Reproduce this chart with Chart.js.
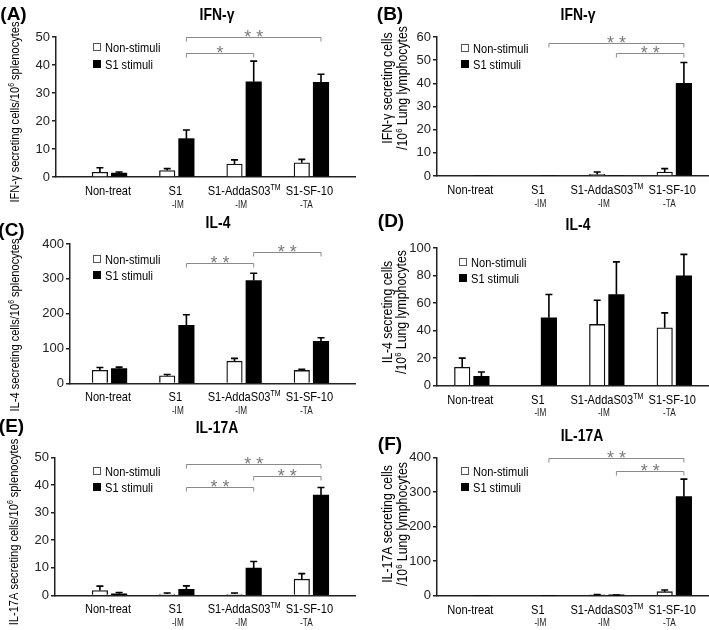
<!DOCTYPE html>
<html><head><meta charset="utf-8">
<script src="https://cdn.jsdelivr.net/npm/chart.js@4.4.0/dist/chart.umd.min.js"></script>
<style>
html,body{margin:0;padding:0;background:#fff;}
#wrap{position:relative;width:709px;height:630px;overflow:hidden;background:#fff;}
#wrap canvas{position:absolute;left:0;top:0;}
</style></head><body><div id="wrap"></div>
<script>
// ---------- data ----------
const categories = ['Non-treat', 'S1', 'S1-AddaS03', 'S1-SF-10'];
const routes = ['', '-IM', '-IM', '-TA'];
const seriesNames = ['Non-stimuli', 'S1 stimuli'];

// (A) IFN-γ, splenocytes
const ifngSplNon    = [1.7, 2.3, 4.6, 5.1];
const ifngSplNonErr = [1.6, 0.7, 1.5, 1.2];
const ifngSplS1     = [1.4, 13.7, 34.0, 33.8];
const ifngSplS1Err  = [0.4, 3.1, 7.4, 2.9];
const ifngSplTicks  = [0, 10, 20, 30, 40, 50];
const ifngSplSig    = [[1, 2, 44.4, '*'], [1, 3, 50, '* *']];

// (B) IFN-γ, lung
const ifngLungNon    = [0, 0, 0.7, 1.7];
const ifngLungNonErr = [0, 0, 1.0, 1.5];
const ifngLungS1     = [0, 0, 0, 40.0];
const ifngLungS1Err  = [0, 0, 0, 9.0];
const ifngLungTicks  = [0, 10, 20, 30, 40, 50, 60];
const ifngLungSig    = [[1, 3, 57.4, '* *'], [2, 3, 53.0, '* *']];

// (C) IL-4, splenocytes
const il4SplNon    = [38, 22, 64, 37.5];
const il4SplNonErr = [8, 4, 8, 3.5];
const il4SplS1     = [43, 167, 295, 121];
const il4SplS1Err  = [4, 30, 21, 10];
const il4SplTicks  = [0, 100, 200, 300, 400];
const il4SplSig    = [[1, 2, 345, '* *'], [2, 3, 376, '* *']];

// (D) IL-4, lung
const il4LungNon    = [13.3, 0, 44.5, 42];
const il4LungNonErr = [6.7, 0, 17.6, 10.9];
const il4LungS1     = [6.8, 49.3, 66.2, 79.7];
const il4LungS1Err  = [3.1, 16.9, 23.7, 15.7];
const il4LungTicks  = [0, 20, 40, 60, 80, 100];
const il4LungSig    = [];

// (E) IL-17A, splenocytes
const il17SplNon    = [1.8, 0.5, 0.5, 5.9];
const il17SplNonErr = [1.6, 0.4, 0.4, 2.0];
const il17SplS1     = [0.6, 2.2, 9.9, 36.3];
const il17SplS1Err  = [0.5, 1.3, 2.4, 2.8];
const il17SplTicks  = [0, 10, 20, 30, 40, 50];
const il17SplSig    = [[1, 3, 47.5, '* *'], [2, 3, 43.2, '* *'], [1, 2, 39.1, '* *']];

// (F) IL-17A, lung
const il17LungNon    = [0, 0, 2.5, 11.6];
const il17LungNonErr = [0, 0, 1.0, 4.9];
const il17LungS1     = [0, 0, 1.5, 287];
const il17LungS1Err  = [0, 0, 0.5, 51];
const il17LungTicks  = [0, 100, 200, 300, 400];
const il17LungSig    = [[1, 3, 398, '* *'], [2, 3, 362, '* *']];

// ---------- fonts ----------
function hasFont(name) {
  const c = document.createElement('canvas').getContext('2d');
  const s = 'Non-stimuli 0123456789';
  c.font = '20px monospace'; const a = c.measureText(s).width;
  c.font = '20px "' + name + '", monospace'; const b = c.measureText(s).width;
  return Math.abs(a - b) > 0.5;
}
const HAS_NARROW = hasFont('Liberation Sans Narrow');
const FN = HAS_NARROW ? '"Liberation Sans Narrow", "Liberation Sans", Arial, sans-serif' : '"Liberation Sans", Arial, sans-serif';
const SX = HAS_NARROW ? 1 : 0.82;
const FW = '"Liberation Sans", Arial, sans-serif';

function drawRich(ctx, segs, x, y, o) {
  o = o || {};
  const narrow = o.narrow !== false;
  const fam = narrow ? FN : FW;
  const sx = narrow ? SX : 1;
  const main = segs[0].s;
  ctx.save();
  ctx.translate(x, y);
  if (o.rot) ctx.rotate(o.rot);
  ctx.scale(sx, 1);
  let total = 0;
  segs.forEach(g => { ctx.font = (o.bold ? 'bold ' : '') + g.s + 'px ' + fam; g.w = ctx.measureText(g.t).width; total += g.w; });
  let cx = o.align === 'left' ? 0 : (o.align === 'right' ? -total : -total / 2);
  ctx.fillStyle = o.color || '#000';
  ctx.textAlign = 'left';
  ctx.textBaseline = 'alphabetic';
  const base = main * 0.36;
  segs.forEach(g => {
    ctx.font = (o.bold ? 'bold ' : '') + g.s + 'px ' + fam;
    ctx.fillText(g.t, cx, base + (g.dy || 0));
    cx += g.w;
  });
  ctx.restore();
}
function txt(ctx, t, x, y, s, o) { drawRich(ctx, [{t: t, s: s}], x, y, o); }

// ---------- panels ----------
const panels = [
  {letter: '(A)', lp: [13.5, 13], title: 'IFN-γ', tp: [217, 14],
   non: ifngSplNon, nonErr: ifngSplNonErr, s1: ifngSplS1, s1Err: ifngSplS1Err, ticks: ifngSplTicks, sig: ifngSplSig,
   padL: 0, L: 56, R: 355, T: 37, B: 177, g0: 109.5, gs: 67.3,
   yt: ['IFN-γ secreting cells/10', ' splenocytes'], ytp: [[14, 112]], yts: 13.5, leg: [93, 47, 64]},
  {letter: '(B)', lp: [390, 13], title: 'IFN-γ', tp: [578, 14],
   non: ifngLungNon, nonErr: ifngLungNonErr, s1: ifngLungS1, s1Err: ifngLungS1Err, ticks: ifngLungTicks, sig: ifngLungSig,
   padL: 355, L: 437, R: 708, T: 37, B: 176, g0: 471.8, gs: 67.5,
   yt: ['IFN-γ secreting cells', '/10', ' Lung lymphocytes'], ytp: [[387, 88], [402, 88]], yts: 15, leg: [461, 48, 64]},
  {letter: '(C)', lp: [11.5, 229], title: 'IL-4', tp: [218, 222],
   non: il4SplNon, nonErr: il4SplNonErr, s1: il4SplS1, s1Err: il4SplS1Err, ticks: il4SplTicks, sig: il4SplSig,
   padL: 0, L: 70, R: 355, T: 244, B: 383.5, g0: 109.5, gs: 67.3,
   yt: ['IL-4 secreting cells/10', ' splenocytes'], ytp: [[14, 325]], yts: 13.5, leg: [93, 259, 275]},
  {letter: '(D)', lp: [391, 220], title: 'IL-4', tp: [578, 224],
   non: il4LungNon, nonErr: il4LungNonErr, s1: il4LungS1, s1Err: il4LungS1Err, ticks: il4LungTicks, sig: il4LungSig,
   padL: 355, L: 437, R: 708, T: 248, B: 385.7, g0: 471.8, gs: 67.5,
   yt: ['IL-4 secreting cells', '/10', ' Lung lymphocytes'], ytp: [[387, 312], [401, 312]], yts: 15, leg: [459, 262, 278]},
  {letter: '(E)', lp: [11.5, 425], title: 'IL-17A', tp: [217, 427],
   non: il17SplNon, nonErr: il17SplNonErr, s1: il17SplS1, s1Err: il17SplS1Err, ticks: il17SplTicks, sig: il17SplSig,
   padL: 0, L: 55, R: 355, T: 457.3, B: 595.5, g0: 109.5, gs: 67.3,
   yt: ['IL-17A secreting cells/10', ' splenocytes'], ytp: [[13, 532]], yts: 13.5, leg: [93, 471, 487]},
  {letter: '(F)', lp: [390, 443], title: 'IL-17A', tp: [582, 435],
   non: il17LungNon, nonErr: il17LungNonErr, s1: il17LungS1, s1Err: il17LungS1Err, ticks: il17LungTicks, sig: il17LungSig,
   padL: 355, L: 437, R: 708, T: 457.7, B: 595.7, g0: 471.8, gs: 67.5,
   yt: ['IL-17A secreting cells', '/10', ' Lung lymphocytes'], ytp: [[387, 524], [402, 524]], yts: 15, leg: [461, 471, 487]}
];

const lbl1Off = [-1.5, -1.5, 0, -2];
const lbl2Off = [0, 1, -3, -5];

function decor(p, off) {
  return {
    id: 'decor',
    afterDraw(chart) {
      const ctx = chart.ctx;
      const xs = chart.scales.x, ys = chart.scales.y;
      // error bars
      ctx.save();
      ctx.strokeStyle = '#000'; ctx.lineWidth = 1.6;
      [[p.non, p.nonErr, -off], [p.s1, p.s1Err, off]].forEach(([vals, errs, o]) => {
        vals.forEach((v, i) => {
          if (!errs[i]) return;
          const x = xs.getPixelForValue(i + o);
          const y0 = ys.getPixelForValue(v), y1 = ys.getPixelForValue(v + errs[i]);
          ctx.beginPath(); ctx.moveTo(x, y0); ctx.lineTo(x, y1);
          ctx.moveTo(x - 3.5, y1); ctx.lineTo(x + 3.5, y1); ctx.stroke();
        });
      });
      ctx.restore();
      // significance brackets
      ctx.save();
      ctx.strokeStyle = '#8a8a8a'; ctx.lineWidth = 1;
      p.sig.forEach(([a, b, yv, lab]) => {
        const xa = xs.getPixelForValue(a + off), xb = xs.getPixelForValue(b + off);
        const y = Math.round(ys.getPixelForValue(yv)) + 0.5;
        ctx.beginPath(); ctx.moveTo(xa, y + 4); ctx.lineTo(xa, y); ctx.lineTo(xb, y); ctx.lineTo(xb, y + 4); ctx.stroke();
        ctx.font = '18px ' + FW; ctx.fillStyle = '#7a7a7a'; ctx.textAlign = 'center'; ctx.textBaseline = 'alphabetic';
        ctx.fillText(lab, (xa + xb) / 2, y + 5);
      });
      ctx.restore();
      // legend
      ctx.save();
      const lx = p.leg[0];
      ctx.strokeStyle = '#555'; ctx.lineWidth = 1; ctx.fillStyle = '#fff';
      ctx.fillRect(lx, p.leg[1] - 4, 8, 8); ctx.strokeRect(lx + 0.5, p.leg[1] - 3.5, 7, 7);
      ctx.fillStyle = '#000'; ctx.fillRect(lx, p.leg[2] - 4, 8, 8);
      ctx.restore();
      txt(ctx, seriesNames[0], lx + 12, p.leg[1], 13.5, {align: 'left'});
      txt(ctx, seriesNames[1], lx + 12, p.leg[2], 13.5, {align: 'left'});
      // panel letter and title
      txt(ctx, p.letter, p.lp[0], p.lp[1], 19, {bold: true, narrow: false});
      txt(ctx, p.title, p.tp[0], p.tp[1], 17, {bold: true});
      // x category labels
      categories.forEach((c, i) => {
        const gx = p.g0 + p.gs * i;
        const segs = c === 'S1-AddaS03' ? [{t: c, s: 13.5}, {t: 'TM', s: 8.5, dy: -5}] : [{t: c, s: 13.5}];
        drawRich(ctx, segs, gx + lbl1Off[i], p.B + 13, {});
        if (routes[i]) txt(ctx, routes[i], gx + lbl2Off[i], p.B + 27, 10, {color: '#222'});
      });
      // y axis title
      const rot = -Math.PI / 2;
      if (p.yt.length === 2) {
        drawRich(ctx, [{t: p.yt[0], s: p.yts}, {t: '6', s: p.yts * 0.62, dy: -5}, {t: p.yt[1], s: p.yts}], p.ytp[0][0], p.ytp[0][1], {rot: rot});
      } else {
        drawRich(ctx, [{t: p.yt[0], s: p.yts}], p.ytp[0][0], p.ytp[0][1], {rot: rot});
        drawRich(ctx, [{t: p.yt[1], s: p.yts}, {t: '6', s: p.yts * 0.62, dy: -5}, {t: p.yt[2], s: p.yts}], p.ytp[1][0], p.ytp[1][1], {rot: rot});
      }
    }
  };
}

const wrap = document.getElementById('wrap');
panels.forEach(p => {
  const cv = document.createElement('canvas');
  cv.width = 709; cv.height = 630;
  cv.style.width = '709px'; cv.style.height = '630px';
  wrap.appendChild(cv);
  const off = 9.6 / p.gs;
  const xMin = (p.L - p.g0) / p.gs, xMax = (p.R - p.g0) / p.gs;
  const barCommon = {grouped: false, categoryPercentage: 1, barPercentage: 1, maxBarThickness: 15.5};
  new Chart(cv, {
    type: 'bar',
    data: {datasets: [
      Object.assign({label: seriesNames[0], data: p.non.map((v, i) => ({x: i - off, y: v})),
        backgroundColor: '#fff', borderColor: '#111', borderWidth: 1.3}, barCommon),
      Object.assign({label: seriesNames[1], data: p.s1.map((v, i) => ({x: i + off, y: v})),
        backgroundColor: '#000', borderColor: '#000', borderWidth: 0}, barCommon)
    ]},
    options: {
      responsive: false, animation: false, events: [],
      layout: {padding: {left: p.padL, right: 709 - p.R, top: p.T, bottom: 0}},
      plugins: {legend: {display: false}, tooltip: {enabled: false}, title: {display: false}},
      scales: {
        x: {type: 'linear', min: xMin, max: xMax, offset: false,
            ticks: {display: false}, grid: {display: false},
            border: {display: true, color: '#222', width: 1.5},
            afterFit: s => { s.height = 630 - p.B; }},
        y: {type: 'linear', min: p.ticks[0], max: p.ticks[p.ticks.length - 1],
            ticks: {stepSize: p.ticks[1] - p.ticks[0], font: {family: FN, size: HAS_NARROW ? 14 : 13}, color: '#222', padding: 2},
            grid: {display: true, drawOnChartArea: false, drawTicks: true, tickLength: 4, color: '#222', lineWidth: 1.5},
            border: {display: true, color: '#222', width: 1.5},
            afterFit: s => { s.width = p.L - p.padL; }}
      }
    },
    plugins: [decor(p, off)]
  });
});
</script></body></html>
